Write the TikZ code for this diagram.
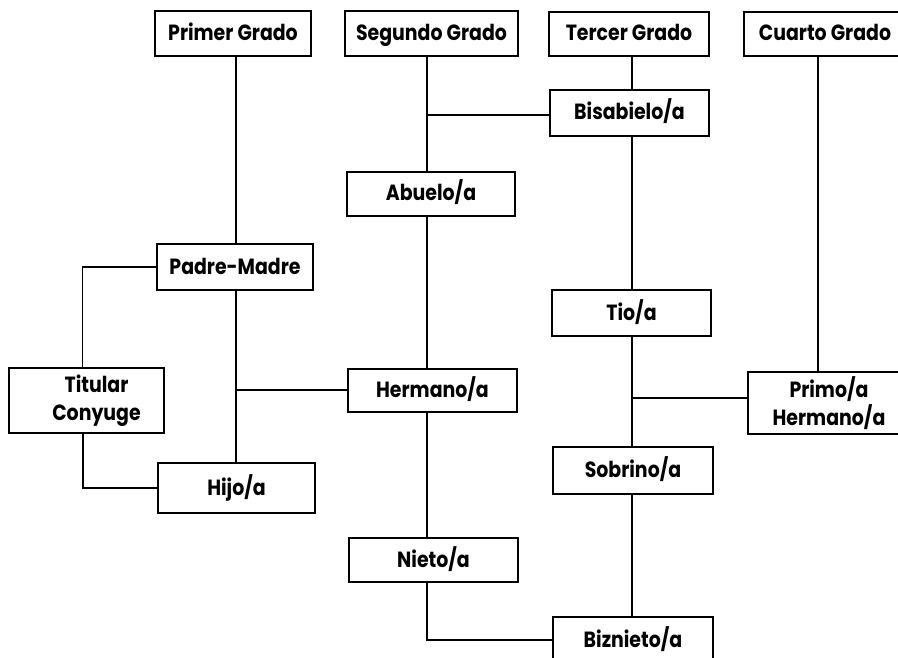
\documentclass[tikz,border=0pt]{standalone}
\usepackage{fontspec}
\setmainfont{Poppins}[FakeStretch=0.86]
\begin{document}
\begin{tikzpicture}[x=1pt,y=-1pt,
  box/.style={draw, line width=2.3pt, minimum width=#1, inner sep=0pt, align=center,
              text height=18pt, text depth=4pt,
              font=\fontsize{22}{28}\selectfont\bfseries},
  vline/.style={line width=2pt},
  hline/.style={line width=1.5pt}]
\useasboundingbox (0,0) rectangle (898,658);
% boxes
\node[box=156pt, minimum height=45pt] (primer)  at (233,33.5)   {Primer Grado};
\node[box=173pt, minimum height=45pt] (segundo) at (431.5,33.5) {Segundo Grado};
\node[box=160pt, minimum height=44pt] (tercer)  at (629,34)     {Tercer Grado};
\node[box=162pt, minimum height=44pt] (cuarto)  at (825,34)     {Cuarto Grado};
\node[box=159pt, minimum height=46pt] (bisab)   at (629.5,113)  {Bisabielo/a};
\node[box=168pt, minimum height=44pt] (abuelo)  at (431,194)    {Abuelo/a};
\node[box=156pt, minimum height=46pt] (padre)   at (235,267)    {Padre-Madre};
\node[box=159pt, minimum height=46pt] (tio)     at (631.5,313)  {Tio/a};
\node[box=155pt, minimum height=65pt, text height=, text depth=] (titular) at (86.5,400.5) {\hspace*{20pt}Titular\\\hspace*{20pt}Conyuge};
\node[box=169pt, minimum height=43pt] (hermano) at (432.5,390.5){Hermano/a};
\node[box=162pt, minimum height=62pt, text height=, text depth=] (primo)   at (829,403)    {\raisebox{-3pt}{Primo/a}\\\raisebox{-3pt}{Hermano/a}};
\node[box=157pt, minimum height=50pt] (hijo)    at (236.5,488)  {Hijo/a};
\node[box=160pt, minimum height=47pt] (sobrino) at (633,470.5)  {Sobrino/a};
\node[box=169pt, minimum height=44pt] (nieto)   at (433.5,560)  {Nieto/a};
\node[box=160pt, minimum height=46pt] (biznieto) at (633,640)   {Biznieto/a};
% column guides
\coordinate (colA) at (236,0);
\coordinate (colB) at (427,0);
\coordinate (colC) at (632,0);
\coordinate (colD) at (818,0);
\coordinate (jB) at (427,115);
\coordinate (jA) at (236,390);
\coordinate (jC) at (632,398);
% first degree
\draw[vline] (primer.south -| colA) -- (padre.north -| colA);
\draw[vline] (padre.south -| colA) -- (hijo.north -| colA);
\draw[hline] (padre.west) -| ([xshift=-4pt]titular.north);
\draw[vline] ([xshift=-4pt]titular.south) |- (hijo.west);
\draw[hline] (jA) -- (jA -| hermano.west);
% second degree
\draw[vline] (segundo.south -| colB) -- (abuelo.north -| colB);
\draw[hline] (jB) -- (jB -| bisab.west);
\draw[vline] (abuelo.south -| colB) -- (hermano.north -| colB);
\draw[vline] (hermano.south -| colB) -- (nieto.north -| colB);
\draw[hline] (nieto.south -| colB) |- (biznieto.west);
% third degree
\draw[vline] (tercer.south -| colC) -- (bisab.north -| colC);
\draw[vline] (bisab.south -| colC) -- (tio.north -| colC);
\draw[vline] (tio.south -| colC) -- (sobrino.north -| colC);
\draw[vline] (sobrino.south -| colC) -- (biznieto.north -| colC);
\draw[hline] (jC) -- (jC -| primo.west);
% fourth degree
\draw[line width=2.6pt] (cuarto.south -| colD) -- (primo.north -| colD);
\end{tikzpicture}
\end{document}
